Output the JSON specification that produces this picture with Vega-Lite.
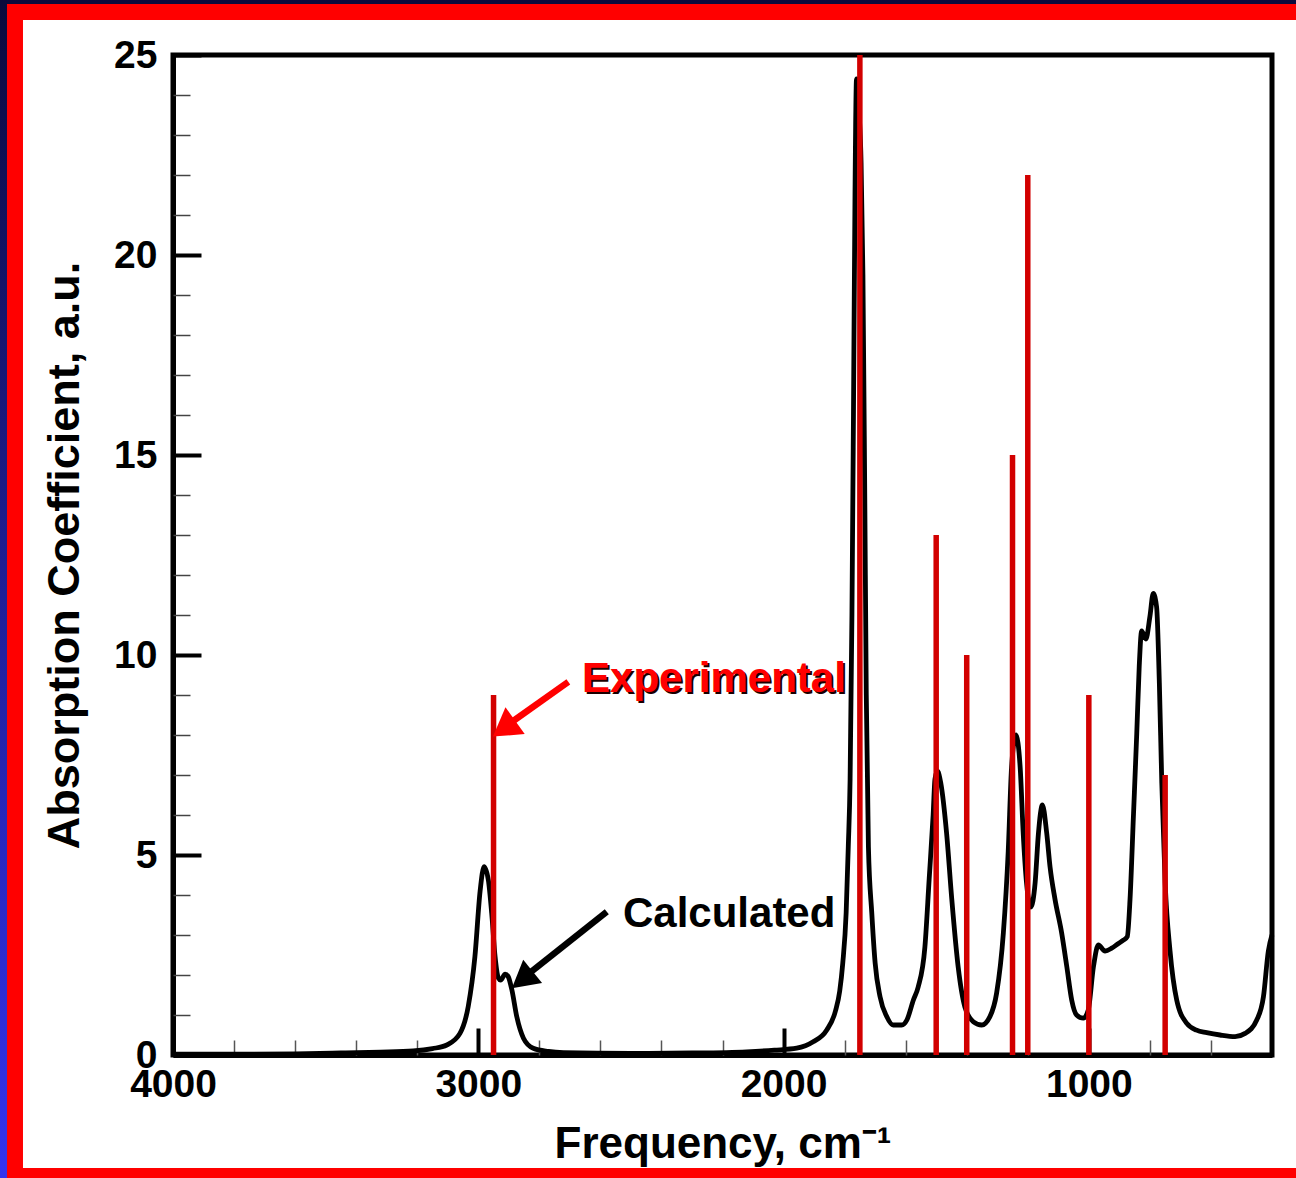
{
  "$schema": "https://vega.github.io/schema/vega-lite/v6.json",
  "width": 1099,
  "height": 1000,
  "autosize": {"type": "none"},
  "padding": {"left": 173, "top": 55, "right": 24, "bottom": 123},
  "background": "white",
  "config": {
    "view": {"stroke": "#000000", "strokeWidth": 5},
    "axis": {
      "grid": false,
      "zindex": 1,
      "domainColor": "#000000",
      "domainWidth": 5,
      "tickColor": "#000000",
      "labelColor": "#000000",
      "titleColor": "#000000",
      "labelFont": "Liberation Sans",
      "titleFont": "Liberation Sans",
      "labelFontWeight": "bold",
      "titleFontWeight": "bold"
    }
  },
  "datasets": {
    "calc": [
      {"freq": 4000, "absorb": 0.02}, {"freq": 3800, "absorb": 0.02}, {"freq": 3600, "absorb": 0.03},
      {"freq": 3450, "absorb": 0.05}, {"freq": 3320, "absorb": 0.07}, {"freq": 3213, "absorb": 0.1},
      {"freq": 3150, "absorb": 0.16}, {"freq": 3103, "absorb": 0.25}, {"freq": 3060, "absorb": 0.54},
      {"freq": 3033, "absorb": 1.21}, {"freq": 3011, "absorb": 2.46}, {"freq": 2994, "absorb": 4.1},
      {"freq": 2981, "absorb": 4.71}, {"freq": 2967, "absorb": 4.37}, {"freq": 2956, "absorb": 3.54},
      {"freq": 2945, "absorb": 2.46}, {"freq": 2934, "absorb": 1.92}, {"freq": 2927, "absorb": 1.87},
      {"freq": 2912, "absorb": 2.02}, {"freq": 2902, "absorb": 1.96}, {"freq": 2890, "absorb": 1.63},
      {"freq": 2874, "absorb": 0.96}, {"freq": 2852, "absorb": 0.42}, {"freq": 2820, "absorb": 0.17},
      {"freq": 2770, "absorb": 0.09}, {"freq": 2721, "absorb": 0.06}, {"freq": 2500, "absorb": 0.04},
      {"freq": 2300, "absorb": 0.05}, {"freq": 2121, "absorb": 0.08}, {"freq": 2030, "absorb": 0.12},
      {"freq": 1957, "absorb": 0.17}, {"freq": 1903, "absorb": 0.33}, {"freq": 1859, "absorb": 0.62},
      {"freq": 1830, "absorb": 1.1}, {"freq": 1816, "absorb": 1.6}, {"freq": 1806, "absorb": 2.3},
      {"freq": 1795, "absorb": 3.55}, {"freq": 1788, "absorb": 5.2}, {"freq": 1782, "absorb": 6.9},
      {"freq": 1776, "absorb": 11}, {"freq": 1771, "absorb": 16},
      {"freq": 1766, "absorb": 21.5}, {"freq": 1761, "absorb": 24.4}, {"freq": 1753, "absorb": 23.6},
      {"freq": 1746, "absorb": 22.3}, {"freq": 1740, "absorb": 19.5}, {"freq": 1734, "absorb": 14},
      {"freq": 1729, "absorb": 9}, {"freq": 1722, "absorb": 5.2}, {"freq": 1711, "absorb": 3.55},
      {"freq": 1700, "absorb": 2.3}, {"freq": 1684, "absorb": 1.46}, {"freq": 1662, "absorb": 0.96},
      {"freq": 1641, "absorb": 0.75}, {"freq": 1613, "absorb": 0.75}, {"freq": 1596, "absorb": 0.875},
      {"freq": 1575, "absorb": 1.37}, {"freq": 1559, "absorb": 1.7}, {"freq": 1537, "absorb": 2.7},
      {"freq": 1523, "absorb": 4.4}, {"freq": 1510, "absorb": 6.0}, {"freq": 1504, "absorb": 6.9},
      {"freq": 1496, "absorb": 7.1}, {"freq": 1485, "absorb": 6.8},
      {"freq": 1466, "absorb": 5.55}, {"freq": 1449, "absorb": 3.9}, {"freq": 1428, "absorb": 2.2},
      {"freq": 1406, "absorb": 1.2}, {"freq": 1378, "absorb": 0.83}, {"freq": 1351, "absorb": 0.75},
      {"freq": 1324, "absorb": 0.96}, {"freq": 1302, "absorb": 1.55}, {"freq": 1280, "absorb": 3.05},
      {"freq": 1264, "absorb": 5.1}, {"freq": 1253, "absorb": 7.2}, {"freq": 1239, "absorb": 8.0},
      {"freq": 1225, "absorb": 7.2}, {"freq": 1215, "absorb": 5.55}, {"freq": 1204, "absorb": 4.3},
      {"freq": 1190, "absorb": 3.7}, {"freq": 1176, "absorb": 4.3}, {"freq": 1165, "absorb": 5.55},
      {"freq": 1152, "absorb": 6.25}, {"freq": 1138, "absorb": 5.55}, {"freq": 1127, "absorb": 4.7},
      {"freq": 1111, "absorb": 3.9}, {"freq": 1089, "absorb": 3.05}, {"freq": 1072, "absorb": 2.2},
      {"freq": 1056, "absorb": 1.37}, {"freq": 1040, "absorb": 1.0}, {"freq": 1018, "absorb": 0.92},
      {"freq": 1002, "absorb": 1.12}, {"freq": 985, "absorb": 2.2}, {"freq": 969, "absorb": 2.75},
      {"freq": 947, "absorb": 2.6}, {"freq": 925, "absorb": 2.67}, {"freq": 903, "absorb": 2.79},
      {"freq": 887, "absorb": 2.87}, {"freq": 874, "absorb": 2.96}, {"freq": 865, "absorb": 3.9},
      {"freq": 854, "absorb": 5.96}, {"freq": 843, "absorb": 8.04}, {"freq": 835, "absorb": 9.7},
      {"freq": 827, "absorb": 10.6}, {"freq": 813, "absorb": 10.4}, {"freq": 800, "absorb": 10.96},
      {"freq": 789, "absorb": 11.54}, {"freq": 778, "absorb": 11.2}, {"freq": 769, "absorb": 9.3},
      {"freq": 761, "absorb": 6.8}, {"freq": 750, "absorb": 4.3}, {"freq": 734, "absorb": 2.6},
      {"freq": 712, "absorb": 1.37}, {"freq": 679, "absorb": 0.79}, {"freq": 647, "absorb": 0.62},
      {"freq": 614, "absorb": 0.56}, {"freq": 570, "absorb": 0.5}, {"freq": 521, "absorb": 0.46},
      {"freq": 488, "absorb": 0.54}, {"freq": 450, "absorb": 0.875}, {"freq": 428, "absorb": 1.46},
      {"freq": 412, "absorb": 2.6}, {"freq": 400, "absorb": 3.0}
    ],
    "expt": [
      {"freq": 2950, "absorb": 9}, {"freq": 1750, "absorb": 25}, {"freq": 1500, "absorb": 13},
      {"freq": 1400, "absorb": 10}, {"freq": 1250, "absorb": 15}, {"freq": 1200, "absorb": 22},
      {"freq": 1000, "absorb": 9}, {"freq": 750, "absorb": 7}
    ]
  },
  "layer": [
    {
      "data": {"values": [{"part": "outer"}]},
      "mark": {
        "type": "rect", "filled": false, "clip": false, "strokeWidth": 16,
        "stroke": {"gradient": "linear", "x1": 0, "y1": 0, "x2": 0, "y2": 1,
          "stops": [{"offset": 0, "color": "#0a0a3c"}, {"offset": 1, "color": "#3434f2"}]}
      },
      "encoding": {
        "x": {"datum": 4566.7, "type": "quantitative", "axis": null},
        "x2": {"datum": 275},
        "y": {"datum": 26.375, "type": "quantitative", "axis": null},
        "y2": {"datum": -3.375}
      }
    },
    {
      "data": {"values": [{"part": "frame"}]},
      "mark": {"type": "rect", "filled": false, "clip": false, "strokeWidth": 16, "stroke": "#ff0000"},
      "encoding": {
        "x": {"datum": 4517.6, "type": "quantitative", "axis": null},
        "x2": {"datum": 275},
        "y": {"datum": 26.075, "type": "quantitative", "axis": null},
        "y2": {"datum": -3.025}
      }
    },
    {
      "data": {"name": "calc"},
      "mark": {"type": "line", "color": "#000000", "strokeWidth": 4.8, "interpolate": "monotone", "strokeJoin": "round"},
      "encoding": {
        "x": {
          "field": "freq", "type": "quantitative",
          "scale": {"domain": [400, 4000], "reverse": true, "nice": false, "zero": false},
          "axis": {
            "orient": "bottom", "values": [4000, 3000, 2000, 1000], "format": "d",
            "tickSize": -27, "tickWidth": 4, "labelFontSize": 39, "labelPadding": 37,
            "labelFlush": false, "labelOverlap": false,
            "title": "Frequency, cm⁻¹", "titleFontSize": 44, "titlePadding": 18
          }
        },
        "y": {
          "field": "absorb", "type": "quantitative",
          "scale": {"domain": [0, 25], "nice": false},
          "axis": {
            "orient": "left", "values": [0, 5, 10, 15, 20, 25],
            "tickSize": -28, "tickWidth": 4, "labelFontSize": 39, "labelPadding": 44,
            "labelFlush": false, "labelOverlap": false,
            "title": "Absorption Coefficient, a.u.", "titleFontSize": 45, "titlePadding": 26
          }
        }
      }
    },
    {
      "data": {"name": "expt"},
      "mark": {"type": "rule", "color": "#d20000", "strokeWidth": 5.5, "strokeCap": "butt"},
      "encoding": {
        "x": {
          "field": "freq", "type": "quantitative",
          "axis": {
            "orient": "bottom",
            "values": [600, 800, 1200, 1400, 1600, 1800, 2200, 2400, 2600, 2800, 3200, 3400, 3600, 3800],
            "domain": false, "labels": false, "title": null,
            "tickSize": -15, "tickWidth": 1.5, "tickColor": "#555555"
          }
        },
        "y": {
          "field": "absorb", "type": "quantitative",
          "axis": {
            "orient": "left",
            "values": [1, 2, 3, 4, 6, 7, 8, 9, 11, 12, 13, 14, 16, 17, 18, 19, 21, 22, 23, 24],
            "domain": false, "labels": false, "title": null,
            "tickSize": -17, "tickWidth": 1.5, "tickColor": "#444444"
          }
        },
        "y2": {"datum": 0}
      }
    },
    {
      "data": {"values": [{"freq": 2705, "absorb": 9.33}, {"freq": 2895, "absorb": 8.3}]},
      "mark": {"type": "line", "color": "#ff0000", "strokeWidth": 6.5, "strokeCap": "butt", "clip": false},
      "encoding": {
        "x": {"field": "freq", "type": "quantitative", "axis": null},
        "y": {"field": "absorb", "type": "quantitative", "axis": null}
      }
    },
    {
      "data": {"values": [{"freq": 2952, "absorb": 7.96}]},
      "mark": {"type": "point", "shape": "M0,0L-1.1,1.82L1.1,1.82Z", "angle": 234.3, "size": 900,
        "filled": true, "color": "#ff0000", "opacity": 1, "strokeWidth": 0},
      "encoding": {
        "x": {"field": "freq", "type": "quantitative", "axis": null},
        "y": {"field": "absorb", "type": "quantitative", "axis": null}
      }
    },
    {
      "data": {"values": [{"freq": 2579, "absorb": 3.58}, {"freq": 2835, "absorb": 2.03}]},
      "mark": {"type": "line", "color": "#000000", "strokeWidth": 6.5, "strokeCap": "butt", "clip": false},
      "encoding": {
        "x": {"field": "freq", "type": "quantitative", "axis": null},
        "y": {"field": "absorb", "type": "quantitative", "axis": null}
      }
    },
    {
      "data": {"values": [{"freq": 2890, "absorb": 1.67}]},
      "mark": {"type": "point", "shape": "M0,0L-1.0,1.78L1.0,1.78Z", "angle": 231.1, "size": 900,
        "filled": true, "color": "#000000", "opacity": 1, "strokeWidth": 0},
      "encoding": {
        "x": {"field": "freq", "type": "quantitative", "axis": null},
        "y": {"field": "absorb", "type": "quantitative", "axis": null}
      }
    },
    {
      "data": {"values": [{"freq": 2660, "absorb": 9.075, "label": "Experimental"}]},
      "mark": {"type": "text", "align": "left", "baseline": "alphabetic", "font": "Liberation Sans",
        "fontWeight": "bold", "fontSize": 42, "color": "#1a0000", "dx": 2, "dy": 2},
      "encoding": {
        "x": {"field": "freq", "type": "quantitative", "axis": null},
        "y": {"field": "absorb", "type": "quantitative", "axis": null},
        "text": {"field": "label"}
      }
    },
    {
      "data": {"values": [{"freq": 2660, "absorb": 9.075, "label": "Experimental"}]},
      "mark": {"type": "text", "align": "left", "baseline": "alphabetic", "font": "Liberation Sans",
        "fontWeight": "bold", "fontSize": 42, "color": "#ff0000"},
      "encoding": {
        "x": {"field": "freq", "type": "quantitative", "axis": null},
        "y": {"field": "absorb", "type": "quantitative", "axis": null},
        "text": {"field": "label"}
      }
    },
    {
      "data": {"values": [{"freq": 2526, "absorb": 3.2, "label": "Calculated"}]},
      "mark": {"type": "text", "align": "left", "baseline": "alphabetic", "font": "Liberation Sans",
        "fontWeight": "bold", "fontSize": 42, "color": "#000000"},
      "encoding": {
        "x": {"field": "freq", "type": "quantitative", "axis": null},
        "y": {"field": "absorb", "type": "quantitative", "axis": null},
        "text": {"field": "label"}
      }
    }
  ],
  "resolve": {"axis": {"x": "independent", "y": "independent"}}
}
